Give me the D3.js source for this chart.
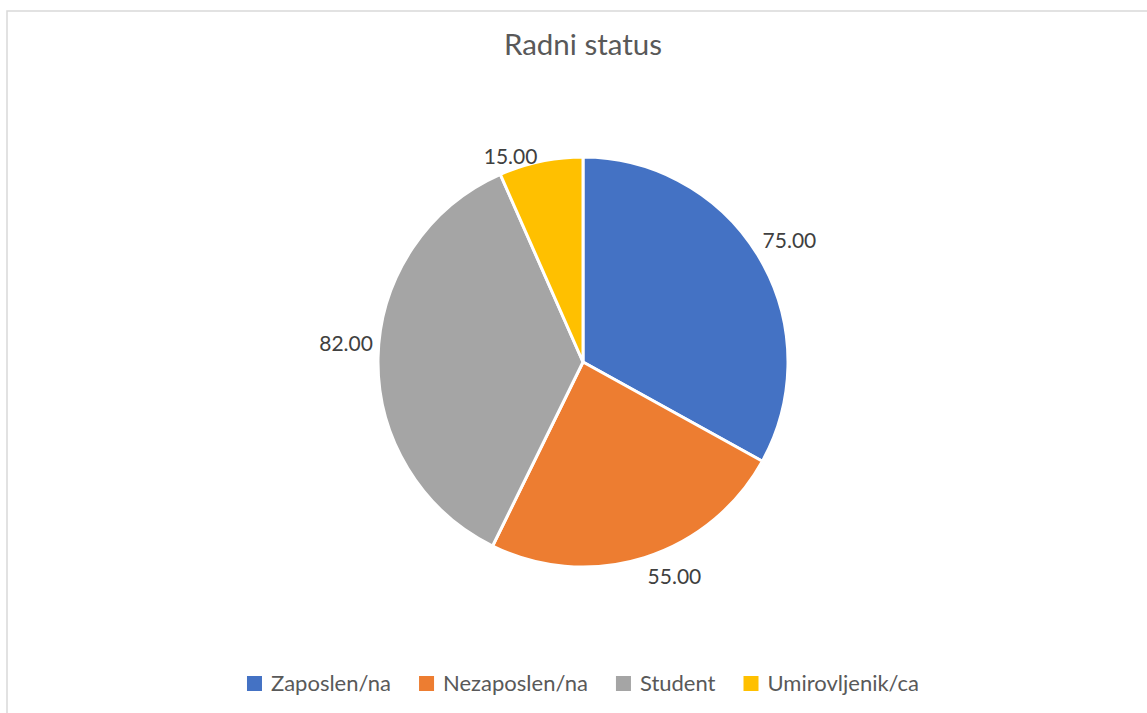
<!DOCTYPE html>
<html>
<head>
<meta charset="utf-8">
<script src="https://cdn.jsdelivr.net/npm/d3@7"></script>
<style>
  body { margin: 0; background: #fff; }
  svg { display: block; font-family: Lato, "Open Sans", sans-serif; }
</style>
</head>
<body>
<div id="chart"></div>
<script>
const categories = ["Zaposlen/na", "Nezaposlen/na", "Student", "Umirovljenik/ca"];
const values = [75, 55, 82, 15];
const colors = ["#4472c4", "#ed7d31", "#a5a5a5", "#ffc000"];
const title = "Radni status";

const width = 1147, height = 713;
const cx = 583, cy = 362, radius = 205;

// excel "best fit" moves a few labels off the plain radial spot
const labelNudge = [[4, -3], [21, -11], [-2, -15], [-24, 23]];

const svg = d3.select("#chart").append("svg")
  .attr("width", width)
  .attr("height", height);

// chart area frame (runs off the right and bottom of the window)
svg.append("rect")
  .attr("x", 7).attr("y", 11)
  .attr("width", 1160).attr("height", 720)
  .attr("fill", "#fff")
  .attr("stroke", "#d9d9d9")
  .attr("stroke-width", 1.5);

svg.append("text")
  .attr("x", cx).attr("y", 55)
  .attr("text-anchor", "middle")
  .attr("font-size", 29.5)
  .attr("fill", "#595959")
  .text(title);

const data = categories.map((c, i) => ({name: c, value: values[i], color: colors[i]}));

const pie = d3.pie().value(d => d.value).sort(null);
const arcs = pie(data);

const arc = d3.arc().innerRadius(0).outerRadius(radius);
const labelArc = d3.arc().innerRadius(235).outerRadius(235);

const g = svg.append("g").attr("transform", "translate(" + cx + "," + cy + ")");

g.selectAll("path")
  .data(arcs)
  .join("path")
  .attr("d", arc)
  .attr("fill", d => d.data.color)
  .attr("stroke", "#fff")
  .attr("stroke-width", 3)
  .attr("stroke-linejoin", "round");

g.selectAll("text.lbl")
  .data(arcs)
  .join("text")
  .attr("class", "lbl")
  .attr("x", (d, i) => labelArc.centroid(d)[0] + labelNudge[i][0])
  .attr("y", (d, i) => labelArc.centroid(d)[1] + labelNudge[i][1])
  .attr("text-anchor", "middle")
  .attr("dominant-baseline", "central")
  .attr("font-size", 21)
  .attr("fill", "#404040")
  .text(d => d3.format(".2f")(d.data.value));

// legend
const legend = svg.append("g");
const items = legend.selectAll("g")
  .data(data)
  .join("g");

items.append("rect")
  .attr("width", 15).attr("height", 15)
  .attr("y", 676)
  .attr("fill", d => d.color);

items.append("text")
  .attr("x", 24)
  .attr("y", 691)
  .attr("font-size", 22)
  .attr("fill", "#595959")
  .text(d => d.name);

let offset = 0;
items.each(function () {
  const it = d3.select(this);
  it.attr("transform", "translate(" + offset + ",0)");
  offset += 24 + it.select("text").node().getComputedTextLength() + 28;
});
const legendWidth = offset - 28;
legend.attr("transform", "translate(" + (cx - legendWidth / 2) + ",0)");
</script>
</body>
</html>
